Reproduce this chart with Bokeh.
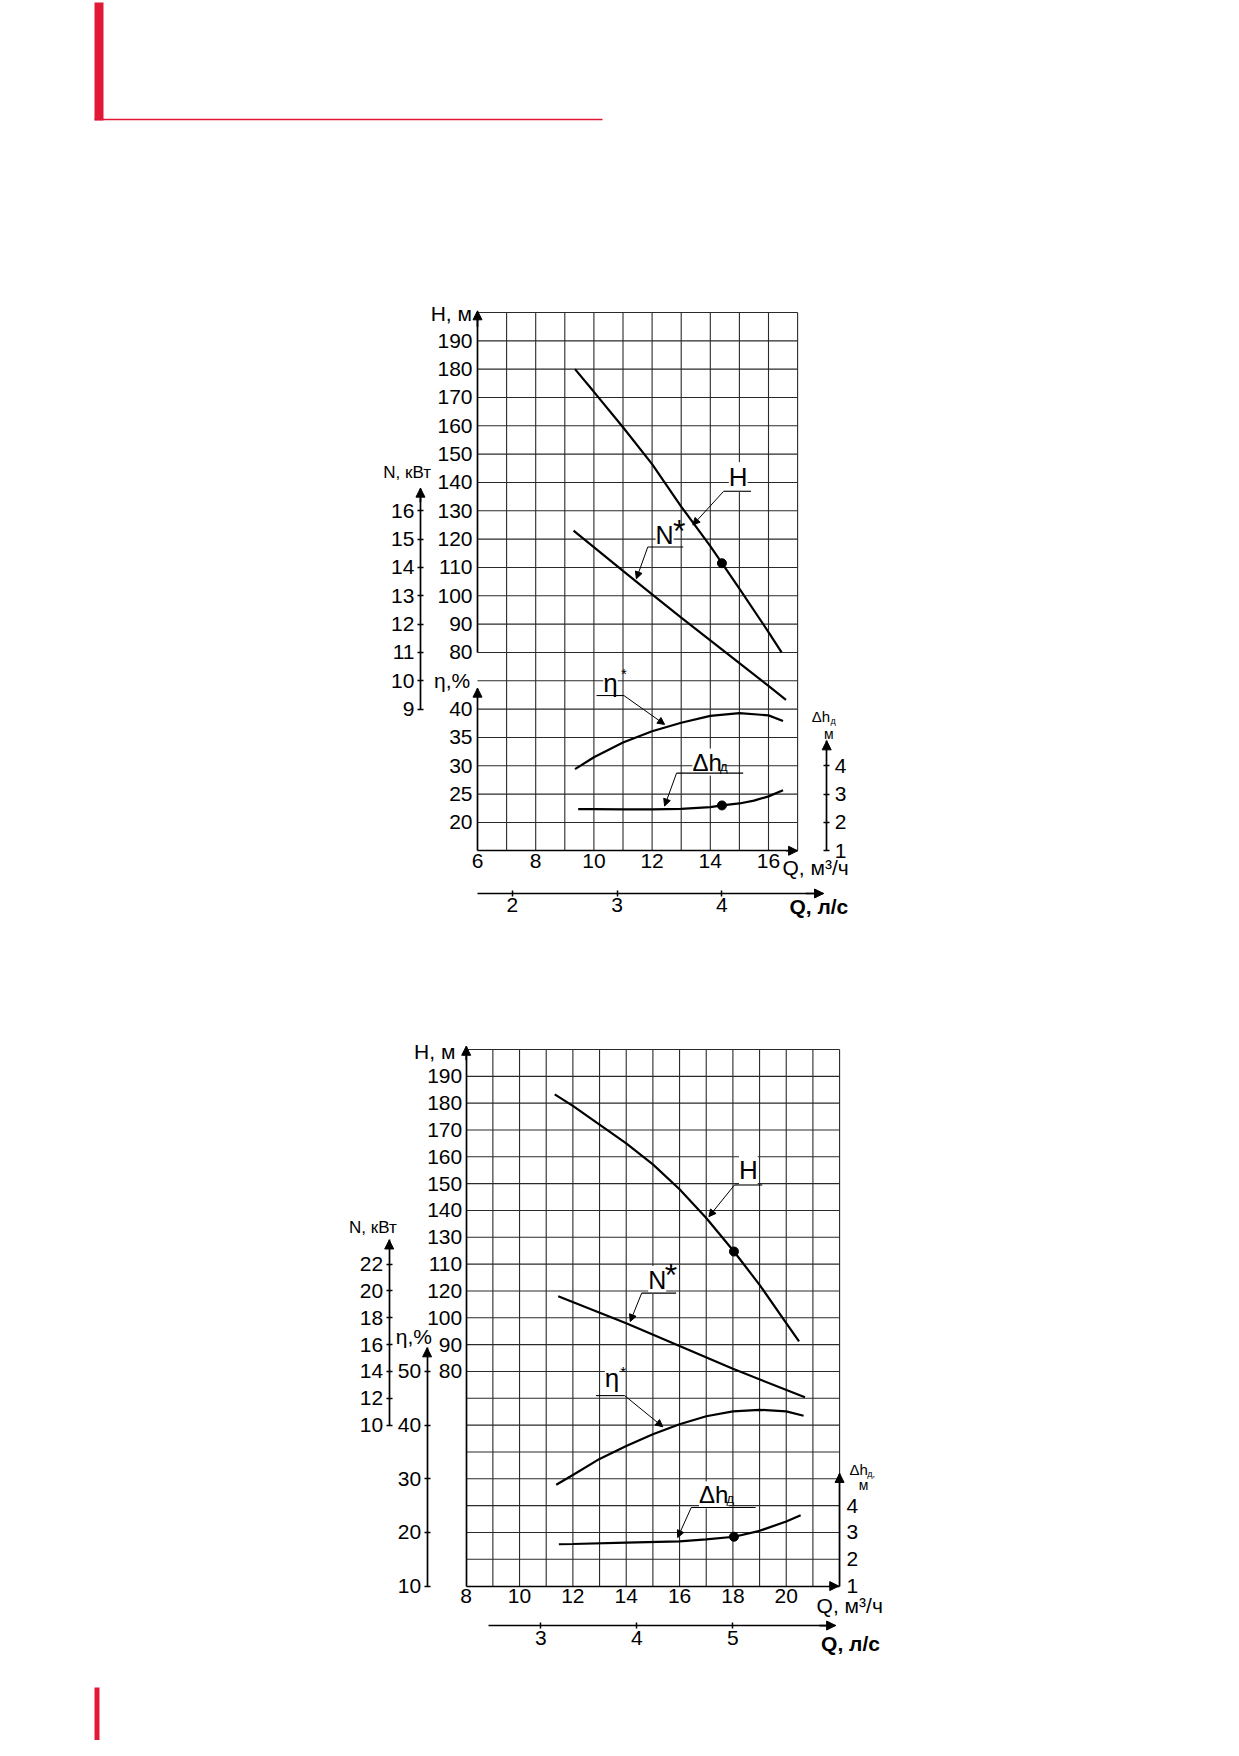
from bokeh.plotting import figure
from bokeh.models import Range1d, LinearAxis, FixedTicker, Label, Arrow, NormalHead
from bokeh.embed import file_html
from bokeh.resources import INLINE

# ================= DATA =================
# --- chart 1 (upper) : Q in m3/h ---
c1_q_H = [9.35, 10.0, 11.0, 12.0, 13.0, 14.0, 14.4, 15.0, 16.0, 16.45]
c1_H = [180, 172, 159.5, 146.5, 131.5, 117.5, 111.5, 102.5, 87.2, 80]
c1_q_N = [9.3, 11.0, 12.0, 13.0, 14.0, 15.0, 16.0, 16.6]
c1_N = [15.3, 13.88, 13.05, 12.23, 11.43, 10.62, 9.82, 9.33]
c1_q_eta = [9.35, 10.0, 11.0, 12.0, 13.0, 14.0, 15.0, 16.0, 16.5]
c1_eta = [29.4, 31.5, 34.1, 36.1, 37.6, 38.8, 39.3, 38.9, 37.9]
c1_q_dh = [9.46, 10.0, 11.0, 12.0, 13.0, 14.0, 14.4, 15.0, 15.5, 16.0, 16.5]
c1_dh = [2.47, 2.47, 2.46, 2.46, 2.48, 2.54, 2.6, 2.67, 2.77, 2.92, 3.14]
c1_q_dot = [14.4]
c1_H_dot = [111.5]
c1_dh_dot = [2.6]

c1_h_ticks = [80, 90, 100, 110, 120, 130, 140, 150, 160, 170, 180, 190]
c1_eta_ticks = [20, 25, 30, 35, 40]
c1_n_ticks = [9, 10, 11, 12, 13, 14, 15, 16]
c1_q_ticks = [6, 8, 10, 12, 14, 16]
c1_ls_ticks = [2, 3, 4]
c1_dh_ticks = [1, 2, 3, 4]

# --- chart 2 (lower) ---
c2_q_H = [11.32, 12.0, 13.0, 14.0, 15.0, 16.0, 17.0, 18.04, 19.0, 20.0, 20.48]
c2_H = [183.3, 179.0, 172.0, 165.0, 157.2, 147.9, 137.2, 124.7, 112.3, 98.0, 91.2]
c2_q_N = [11.45, 14.0, 16.0, 18.0, 20.7]
c2_N = [19.6, 17.6, 15.9, 14.2, 12.07]
c2_q_eta = [11.375, 12.0, 13.0, 14.0, 15.0, 16.0, 17.0, 18.0, 19.0, 20.0, 20.65]
c2_eta = [28.9, 30.7, 33.7, 36.1, 38.3, 40.15, 41.65, 42.55, 42.85, 42.55, 41.75]
c2_q_dh = [11.475, 12.0, 14.0, 16.0, 17.0, 18.05, 19.0, 20.0, 20.54]
c2_dh = [2.56, 2.57, 2.62, 2.67, 2.74, 2.84, 3.06, 3.41, 3.64]
c2_q_dot = [18.04]
c2_H_dot = [124.7]
c2_dh_dot = [2.84]

c2_h_tick_pos = [190, 180, 170, 160, 150, 140, 130, 120, 110, 100, 90, 80]
c2_h_tick_labels = ["190", "180", "170", "160", "150", "140", "130", "110", "120", "100", "90", "80"]
c2_eta_ticks = [10, 20, 30, 40, 50]
c2_n_ticks = [10, 12, 14, 16, 18, 20, 22]
c2_q_ticks = [8, 10, 12, 14, 16, 18, 20]
c2_ls_ticks = [3, 4, 5]
c2_dh_ticks = [1, 2, 3, 4]

# ================= FIGURE =================
FONT = "Liberation Sans"
RED = "#E11937"
W, HH = 1223, 1740
OFF = 0          # page offset of the figure (measured)
TS = "21px"      # tick label size

p = figure(width=W, height=HH, x_range=Range1d(0, W), y_range=Range1d(HH, 0),
           output_backend="svg", toolbar_location=None,
           x_axis_type=None, y_axis_type=None, min_border=0,
           outline_line_color=None, background_fill_color="white",
           border_fill_color="white")


def xrange_(v0, px, ppu):
    s = v0 - (px - OFF) / ppu
    return Range1d(start=s, end=s + W / ppu)


def yrange_(v0, py, ppu):
    e = v0 + (py - OFF) / ppu
    return Range1d(start=e - HH / ppu, end=e)


def derived(r, f):
    return Range1d(start=f(r.start), end=f(r.end))


q1 = xrange_(6, 477, 29.1)
h1 = yrange_(200, 312, 2.833)
n1 = derived(h1, lambda h: h / 10 + 3)
e1 = derived(h1, lambda h: 40 + (h - 60) / 2)
d1 = derived(h1, lambda h: h / 10)
l1 = derived(q1, lambda q: q / 3.6)

q2 = xrange_(8, 465.7, 26.67)
h2 = yrange_(200, 1049, 2.683)
n2 = derived(h2, lambda h: 14 + (h - 80) / 5)
e2 = derived(h2, lambda h: 50 + (h - 80) / 2)
d2 = derived(h2, lambda h: 1 + h / 10)
l2 = derived(q2, lambda q: q / 3.6)

p.extra_x_ranges = {"q1": q1, "l1": l1, "q2": q2, "l2": l2}
p.extra_y_ranges = {"h1": h1, "n1": n1, "e1": e1, "d1": d1,
                    "h2": h2, "n2": n2, "e2": e2, "d2": d2}

GRID = "#2a2a2a"


def add_axis(side, xn, yn, loc, bounds, ticks, standoff, tick=0, overrides=None):
    ax = LinearAxis(x_range_name=xn, y_range_name=yn, fixed_location=loc,
                    bounds=bounds, ticker=FixedTicker(ticks=ticks, minor_ticks=[]),
                    major_tick_in=tick, major_tick_out=tick,
                    minor_tick_in=0, minor_tick_out=0,
                    major_label_standoff=standoff,
                    axis_line_width=1.7, axis_line_color="black",
                    major_tick_line_width=1.5, major_tick_line_color="black",
                    major_label_text_font=FONT, major_label_text_font_size=TS,
                    major_label_text_color="black")
    if overrides:
        ax.major_label_overrides = overrides
    p.add_layout(ax, side)


def head(xn, yn, x0, y0, x1, y1, size=9, lw=1.7):
    p.add_layout(Arrow(end=NormalHead(size=size, fill_color="black", line_color="black",
                                      line_width=1),
                       x_start=x0, y_start=y0, x_end=x1, y_end=y1,
                       x_range_name=xn, y_range_name=yn,
                       line_color="black", line_width=lw))


def uline(xn, yn, x0, x1, y, lw=1.1):
    # plain rule drawn above the label boxes
    p.add_layout(Arrow(end=None, x_start=x0, y_start=y, x_end=x1, y_end=y,
                       x_range_name=xn, y_range_name=yn,
                       line_color="black", line_width=lw))


def lab(text, x, y, xn, yn, size, bold=False, bg=False, align="center"):
    kw = {"background_fill_color": "white"} if bg else {}
    p.add_layout(Label(x=x, y=y, text=text, x_range_name=xn, y_range_name=yn,
                       text_font=FONT, text_font_size=f"{size}px",
                       text_font_style="bold" if bold else "normal",
                       text_align=align, text_baseline="middle",
                       text_color="black", **kw))


def seg(xn, yn, x0, y0, x1, y1, lw=1.0, color="black"):
    p.segment(x0=x0, y0=y0, x1=x1, y1=y1, x_range_name=xn, y_range_name=yn,
              line_color=color, line_width=lw)


# ================= decorations (page pixels) =================
p.quad(left=[94 - OFF], right=[103 - OFF], top=[2 - OFF], bottom=[120 - OFF],
       fill_color=RED, line_color=None)
p.segment(x0=[94 - OFF], y0=[119 - OFF], x1=[602 - OFF], y1=[119 - OFF],
          line_color=RED, line_width=1.6)
p.quad(left=[94 - OFF], right=[99 - OFF], top=[1687 - OFF], bottom=[HH],
       fill_color=RED, line_color=None)

# ================= CHART 1 =================
gq = list(range(7, 18))
seg("q1", "h1", gq, [10] * len(gq), gq, [200] * len(gq), lw=1.1, color=GRID)
gh = list(range(20, 201, 10))
seg("q1", "h1", [6] * len(gh), gh, [17] * len(gh), gh, lw=1.1, color=GRID)

add_axis("left", "q1", "h1", 6, (80, 200), c1_h_ticks, 5)
add_axis("left", "q1", "e1", 6, (15, 43.7), c1_eta_ticks, 5)
add_axis("left", "q1", "n1", 4.04, (9, 16.8), c1_n_ticks, 3, tick=3)
add_axis("below", "q1", "h1", 10, (6, 17), c1_q_ticks, 3)
add_axis("below", "l1", "h1", -5.08, (6 / 3.6, 4.97), c1_ls_ticks, 2, tick=3)
add_axis("right", "q1", "d1", 18, (1, 4.88), c1_dh_ticks, 5, tick=3)

head("q1", "h1", 6, 195, 6, 200.6)
head("q1", "e1", 6, 42, 6, 43.7)
head("q1", "n1", 4.04, 16.3, 4.04, 16.8)
head("q1", "h1", 16.6, 10, 17, 10)
head("l1", "h1", 4.8, -5.08, 4.97, -5.08)
head("q1", "d1", 18, 4.6, 18, 4.88)

lab("H, м", 5.10, 199.5, "q1", "h1", 21)
lab("N, кВт", 3.58, 143.6, "q1", "h1", 17)
lab("η,%", 5.13, 70.1, "q1", "h1", 21)
lab("Q, м³/ч", 17.62, 4.0, "q1", "h1", 21)
lab("Q, л/с", 17.73, -9.7, "q1", "h1", 21, bold=True)
lab("Δh", 17.80, 57.3, "q1", "h1", 15)
lab("д", 18.22, 55.9, "q1", "h1", 9)
lab("м", 18.07, 51.3, "q1", "h1", 14)

p.line(c1_q_H, c1_H, x_range_name="q1", y_range_name="h1", line_color="black", line_width=2.2)
p.line(c1_q_N, c1_N, x_range_name="q1", y_range_name="n1", line_color="black", line_width=2.2)
p.line(c1_q_eta, c1_eta, x_range_name="q1", y_range_name="e1", line_color="black", line_width=2.2)
p.line(c1_q_dh, c1_dh, x_range_name="q1", y_range_name="d1", line_color="black", line_width=2.2)
p.scatter(c1_q_dot, c1_H_dot, x_range_name="q1", y_range_name="h1", size=9, color="black")
p.scatter(c1_q_dot, c1_dh_dot, x_range_name="q1", y_range_name="d1", size=9, color="black")

# curve labels chart 1
lab("H", 14.96, 141.9, "q1", "h1", 26, bg=True)
uline("q1", "h1", 14.46, 15.4, 136.9)
head("q1", "h1", 14.46, 136.9, 13.4, 125, size=7, lw=1)

lab("N", 12.43, 121.3, "q1", "h1", 25, bg=True)
lab("*", 12.93, 123.0, "q1", "h1", 32)
uline("q1", "h1", 11.85, 13.07, 117.2)
head("q1", "h1", 11.85, 117.2, 11.46, 106, size=7, lw=1)

lab("η", 10.57, 69.3, "q1", "h1", 26, bg=True)
lab("*", 11.03, 72.6, "q1", "h1", 15)
uline("q1", "h1", 10.09, 11.03, 64.8)
head("q1", "h1", 11.03, 64.8, 12.43, 54.6, size=7, lw=1)

lab("Δh", 13.89, 41.3, "q1", "h1", 24, bg=True)
lab("д", 14.46, 39.8, "q1", "h1", 13)
uline("q1", "h1", 12.84, 15.13, 37.4)
head("q1", "h1", 12.84, 37.4, 12.43, 25.8, size=7, lw=1)

# ================= CHART 2 =================
gq2 = list(range(9, 23))
seg("q2", "h2", gq2, [0] * len(gq2), gq2, [200] * len(gq2), lw=1.1, color=GRID)
gh2 = list(range(10, 201, 10))
seg("q2", "h2", [8] * len(gh2), gh2, [22] * len(gh2), gh2, lw=1.1, color=GRID)

add_axis("left", "q2", "h2", 8, (0, 201), c2_h_tick_pos, 4,
         overrides=dict(zip(c2_h_tick_pos, c2_h_tick_labels)))
add_axis("left", "q2", "e2", 6.534, (10, 54.4), c2_eta_ticks, 3, tick=3)
add_axis("left", "q2", "n2", 5.113, (10, 23.8), c2_n_ticks, 3, tick=3)
add_axis("below", "q2", "h2", 0, (8, 22), c2_q_ticks, 3)
add_axis("below", "l2", "h2", -14.7, (8.85 / 3.6, 6.07), c2_ls_ticks, 2, tick=3)
add_axis("right", "q2", "d2", 22, (1, 5.2), c2_dh_ticks, 7)

head("q2", "h2", 8, 196, 8, 201.2)
head("q2", "e2", 6.534, 53, 6.534, 54.4)
head("q2", "n2", 5.113, 23.2, 5.113, 23.8)
head("q2", "h2", 21.6, 0, 21.97, 0)
head("l2", "h2", 5.9, -14.7, 6.07, -14.7)
head("q2", "d2", 22, 4.9, 22, 5.2)

lab("H, м", 6.82, 199.4, "q2", "h2", 21)
lab("N, кВт", 4.50, 133.8, "q2", "h2", 17)
lab("η,%", 6.04, 93.1, "q2", "h2", 21)
lab("Q, м³/ч", 22.38, -7.2, "q2", "h2", 21)
lab("Q, л/с", 22.41, -21.3, "q2", "h2", 21, bold=True)
lab("Δh", 22.72, 43.3, "q2", "h2", 15)
lab("д,", 23.18, 41.8, "q2", "h2", 9)
lab("м", 22.9, 37.5, "q2", "h2", 14)

p.line(c2_q_H, c2_H, x_range_name="q2", y_range_name="h2", line_color="black", line_width=2.2)
p.line(c2_q_N, c2_N, x_range_name="q2", y_range_name="n2", line_color="black", line_width=2.2)
p.line(c2_q_eta, c2_eta, x_range_name="q2", y_range_name="e2", line_color="black", line_width=2.2)
p.line(c2_q_dh, c2_dh, x_range_name="q2", y_range_name="d2", line_color="black", line_width=2.2)
p.scatter(c2_q_dot, c2_H_dot, x_range_name="q2", y_range_name="h2", size=9, color="black")
p.scatter(c2_q_dot, c2_dh_dot, x_range_name="q2", y_range_name="d2", size=9, color="black")

lab("H", 18.58, 155, "q2", "h2", 26, bg=True)
uline("q2", "h2", 18.06, 19.1, 149.5)
head("q2", "h2", 18.06, 149.5, 17.1, 137.7, size=7, lw=1)

lab("N", 15.16, 114.1, "q2", "h2", 25, bg=True)
lab("*", 15.68, 116.0, "q2", "h2", 32)
uline("q2", "h2", 14.58, 15.87, 109.2)
head("q2", "h2", 14.58, 109.2, 14.15, 98.6, size=7, lw=1)

lab("η", 13.47, 77.4, "q2", "h2", 26, bg=True)
lab("*", 13.89, 80.0, "q2", "h2", 15)
uline("q2", "h2", 12.87, 13.94, 71)
head("q2", "h2", 13.94, 71, 15.37, 59.4, size=7, lw=1)

lab("Δh", 17.28, 34, "q2", "h2", 24, bg=True)
lab("д", 17.9, 32.5, "q2", "h2", 13)
uline("q2", "h2", 16.44, 18.85, 29.3)
head("q2", "h2", 16.44, 29.3, 15.93, 18.1, size=7, lw=1)

with open("out.html", "w") as f:
    f.write(file_html(p, INLINE))
